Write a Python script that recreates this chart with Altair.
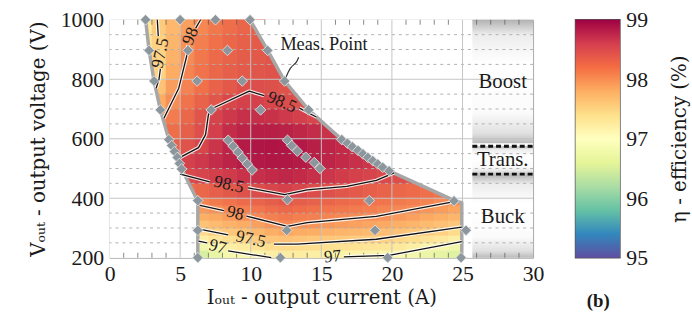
import altair as alt
import pandas as pd

# ---------------- values ----------------
# efficiency grid: row r spans [row_v_lo[r], row_v_hi[r]] V; cells are 1 A wide starting at row_i0[r]
row_v_lo = [200, 225, 250, 275, 300, 325, 350, 375, 400, 450, 500, 550, 600, 650, 700, 750, 800, 850, 900, 950]
row_v_hi = [225, 250, 275, 300, 325, 350, 375, 400, 450, 500, 550, 600, 650, 700, 750, 800, 850, 900, 950, 1000]
row_i0 = [6, 6, 6, 6, 6, 6, 6, 6, 5, 5, 4, 4, 3, 3, 3, 3, 2, 2, 2, 2]
eff_rows = [
    [96.53, 96.72, 96.90, 96.98, 97.05, 97.13, 97.16, 97.17, 97.15, 97.12, 97.09, 97.08, 97.07, 97.05, 96.99, 96.90, 96.80, 96.69, 96.59],
    [96.83, 96.99, 97.14, 97.21, 97.30, 97.39, 97.41, 97.40, 97.38, 97.36, 97.34, 97.32, 97.30, 97.27, 97.22, 97.15, 97.06, 96.96, 96.86],
    [97.13, 97.27, 97.38, 97.45, 97.53, 97.60, 97.63, 97.61, 97.59, 97.57, 97.56, 97.54, 97.52, 97.50, 97.45, 97.40, 97.31, 97.23, 97.14],
    [97.42, 97.52, 97.58, 97.63, 97.70, 97.78, 97.84, 97.80, 97.78, 97.75, 97.73, 97.70, 97.68, 97.66, 97.62, 97.58, 97.54, 97.50, 97.41],
    [97.61, 97.68, 97.74, 97.80, 97.88, 97.96, 98.03, 97.99, 97.96, 97.93, 97.90, 97.87, 97.84, 97.81, 97.77, 97.73, 97.68, 97.64, 97.59],
    [97.77, 97.83, 97.90, 97.98, 98.04, 98.09, 98.14, 98.11, 98.09, 98.06, 98.04, 98.02, 98.00, 97.97, 97.92, 97.87, 97.81, 97.77, 97.72],
    [97.92, 97.99, 98.05, 98.11, 98.16, 98.22, 98.26, 98.23, 98.20, 98.17, 98.15, 98.12, 98.10, 98.07, 98.04, 98.01, 97.95, 97.90, 97.85],
    [98.07, 98.13, 98.18, 98.24, 98.29, 98.34, 98.38, 98.34, 98.31, 98.28, 98.25, 98.22, 98.19, 98.17, 98.13, 98.10, 98.06, 98.02, 97.98],
    [98.22, 98.27, 98.33, 98.38, 98.43, 98.47, 98.52, 98.56, 98.52, 98.47, 98.44, 98.40, 98.37, 98.33, 98.30, 98.27, 98.24, 98.21, 98.18, 98.15],
    [98.49, 98.53, 98.57, 98.61, 98.66, 98.69, 98.72, 98.74, 98.72, 98.68, 98.64, 98.60, 98.56, 98.53, 98.49, 98.46, 98.43],
    [98.48, 98.56, 98.63, 98.70, 98.77, 98.82, 98.84, 98.85, 98.85, 98.83, 98.80, 98.76, 98.72, 98.68, 98.64, 98.60],
    [98.32, 98.42, 98.52, 98.65, 98.76, 98.83, 98.86, 98.87, 98.86, 98.84, 98.80, 98.76, 98.72, 98.68],
    [98.12, 98.22, 98.33, 98.45, 98.58, 98.70, 98.77, 98.80, 98.80, 98.78, 98.74, 98.70, 98.66, 98.63],
    [97.97, 98.12, 98.27, 98.41, 98.55, 98.63, 98.68, 98.69, 98.67, 98.62, 98.57, 98.52, 98.53],
    [97.80, 98.00, 98.18, 98.30, 98.40, 98.51, 98.56, 98.56, 98.52, 98.47, 98.44, 98.42],
    [97.62, 97.90, 98.08, 98.20, 98.30, 98.38, 98.45, 98.46, 98.44, 98.42, 98.40],
    [97.40, 97.49, 97.80, 98.06, 98.18, 98.27, 98.33, 98.37, 98.40, 98.42, 98.43],
    [97.35, 97.48, 97.75, 98.02, 98.15, 98.25, 98.30, 98.35, 98.38, 98.40],
    [97.30, 97.50, 97.72, 97.97, 98.10, 98.20, 98.27, 98.32, 98.36, 98.38],
    [97.25, 97.55, 97.70, 97.88, 98.05, 98.15, 98.22, 98.28, 98.32],
]

# boundary of the measured operating region
left_i = [2.55, 2.8, 3.15, 3.6, 4.2, 5.1, 6.25, 6.25]
left_v = [1000, 897, 794, 697, 597, 500, 390, 200]
right_i = [9.95, 11.2, 12.4, 14.1, 16.45, 19.8, 24.4, 24.95, 24.95]
right_v = [1000, 897, 794, 697, 597, 492, 393, 385, 200]

# measurement points
meas_i = [2.55, 5.0, 7.5, 9.95, 2.8, 5.55, 8.35, 11.2, 3.15, 6.2, 9.4, 12.4, 3.6, 7.2, 10.7, 14.1,
          4.2, 4.4, 4.6, 4.8, 4.95, 5.1,
          8.4, 8.75, 9.1, 9.4, 9.75, 10.1,
          12.6, 12.9, 13.3, 13.9, 14.5, 14.9,
          16.45, 16.85, 17.2, 17.6, 17.95, 18.3, 18.65, 19.0, 19.35, 19.8,
          6.25, 12.6, 18.4, 24.4, 6.25, 12.55, 18.8, 25.25, 6.25, 12.1, 19.7, 24.9]
meas_v = [1000, 1000, 1000, 1000, 897, 897, 897, 897, 794, 794, 794, 794, 697, 697, 697, 697,
          597, 577, 557, 537, 517, 498,
          595, 575, 555, 535, 515, 495,
          595, 577, 558, 538, 520, 500,
          597, 585, 573, 561, 549, 537, 526, 515, 504, 492,
          392, 395, 392, 391, 292, 292, 292, 292, 200, 200, 200, 200]

# contour lines (segments, broken where the labels sit)
contour_985 = [
    [(4.9, 535), (6.3, 570), (6.8, 614), (7.0, 680), (7.2, 700), (9.9, 760), (10.95, 745)],
    [(13.45, 703), (14.2, 684), (14.65, 673)],
    [(5.0, 481), (7.1, 455)],
    [(9.8, 435), (12.4, 412), (14.0, 428), (16.8, 440), (18.9, 460), (20.15, 485)],
]
contour_98 = [
    [(6.45, 1000), (6.1, 972)],
    [(5.55, 915), (5.5, 885), (4.9, 770), (3.85, 669)],
    [(6.4, 376), (8.1, 358)],
    [(9.7, 340), (12.6, 305), (14.0, 318), (18.9, 339), (24.6, 390)],
]
contour_975 = [
    [(3.38, 1000), (3.45, 945)],
    [(3.6, 835), (3.5, 800), (3.3, 770)],
    [(6.35, 296), (8.4, 277)],
    [(11.65, 246), (13.3, 246), (18.9, 262), (24.95, 303)],
]
contour_97 = [
    [(6.3, 256), (6.9, 250)],
    [(8.4, 223), (11.45, 200)],
    [(16.6, 203), (19.8, 208), (24.95, 254)],
]

label_text = ["97.5", "98", "98.5", "98.5", "98", "97.5", "97", "97"]
label_i = [3.62, 5.75, 12.2, 8.45, 8.9, 10.0, 7.65, 15.8]
label_v = [888, 945, 722, 445, 349, 262, 236, 203]
label_angle = [282, 292, 23, 13, 14, 12, 15, 355]

lead_i = [12.47, 12.8, 13.17, 13.3, 13.4]
lead_v = [804, 841, 852, 863, 874]
note_text = ["Meas. Point"]
note_i = [12.1]
note_v = [917]

band_names = ["Boost", "Trans.", "Buck"]
band_v_lo = [585, 481, 200]
band_v_hi = [1000, 575, 481]
band_label_v = [791, 527, 338]
band_i_lo = 25.7
band_i_hi = 30
band_edges_v = [575, 481]

minor_v = [250, 300, 350, 450, 500, 550, 650, 700, 750, 850, 900, 950]
major_v = [400, 600, 800]
major_i = [5, 10, 15, 20, 25]
tick_i = [k for k in range(1, 30) if k % 5 != 0]

x_ticks = [0, 5, 10, 15, 20, 25, 30]
y_ticks = [200, 400, 600, 800, 1000]
cbar_ticks = [95, 96, 97, 98, 99]
spectral = ["#9e0142", "#d53e4f", "#f46d43", "#fdae61", "#fee08b", "#ffffbf",
            "#e6f598", "#abdda4", "#66c2a5", "#3288bd", "#5e4fa2"]

# ---------------- tables ----------------
heat_rec = []
for lo, hi, i0, vals in zip(row_v_lo, row_v_hi, row_i0, eff_rows):
    for k, e in enumerate(vals):
        heat_rec.append({"i": i0 + k, "i2": i0 + k + 1, "v": lo, "v2": hi, "eff": e})
heat_df = pd.DataFrame(heat_rec)

left_df = pd.DataFrame({"v": left_v, "i": [0] * len(left_v), "i2": left_i})
right_df = pd.DataFrame({"v": right_v, "i": right_i, "i2": [band_i_hi] * len(right_v)})

outline_rec = []
for side, xs_, vs_ in (("L", left_i, left_v), ("R", right_i, right_v)):
    for k, (a, b) in enumerate(zip(xs_, vs_)):
        outline_rec.append({"i": a, "v": b, "seg": side, "k": k})
outline_df = pd.DataFrame(outline_rec)

cont_rec = []
for name, segs in (("985", contour_985), ("98", contour_98), ("975", contour_975), ("97", contour_97)):
    for s, seg in enumerate(segs):
        for k, (a, b) in enumerate(seg):
            cont_rec.append({"i": a, "v": b, "seg": f"{name}_{s}", "k": k})
cont_df = pd.DataFrame(cont_rec)

lab_df = pd.DataFrame({"t": label_text, "i": label_i, "v": label_v, "a": label_angle})
meas_df = pd.DataFrame({"i": meas_i, "v": meas_v})
lead_df = pd.DataFrame({"i": lead_i, "v": lead_v, "k": list(range(len(lead_i)))})
note_df = pd.DataFrame({"t": note_text, "i": note_i, "v": note_v})
band_df = pd.DataFrame({"name": band_names, "v": band_v_lo, "v2": band_v_hi,
                        "lv": band_label_v, "i": [band_i_lo] * 3, "i2": [band_i_hi] * 3,
                        "ic": [(band_i_lo + band_i_hi) / 2] * 3})
edge_df = pd.DataFrame({"v": band_edges_v, "i": [band_i_lo] * 2, "i2": [band_i_hi] * 2})
minor_df = pd.DataFrame({"v": minor_v})
majv_df = pd.DataFrame({"v": major_v})
maji_df = pd.DataFrame({"i": major_i})
tickb_df = pd.DataFrame({"i": tick_i, "v": [200] * len(tick_i)})
tickt_df = pd.DataFrame({"i": tick_i, "v": [1000] * len(tick_i)})

# ---------------- encodings ----------------
NUM_FONT = "Liberation Serif"
TXT_FONT = "DejaVu Serif"
INK = "#1a1a1a"

xs = alt.Scale(domain=[0, 30], nice=False, zero=False)
ys = alt.Scale(domain=[200, 1000], nice=False, zero=False)
cs = alt.Scale(scheme="spectral", reverse=True, domain=[95, 99])

x_axis = alt.Axis(title="I\u2092\u1d64\u209c - output current (A)", values=x_ticks, format="d", grid=False,
                  ticks=False, domain=False, labelFont=NUM_FONT, labelFontSize=22, labelColor=INK,
                  labelPadding=6, labelFlush=False, titleFont=TXT_FONT, titleFontSize=20,
                  titleFontWeight="normal", titleColor=INK, titlePadding=3)
y_axis = alt.Axis(title="V\u2092\u1d64\u209c - output voltage (V)", values=y_ticks, format="d", grid=False,
                  ticks=False, domain=False, labelFont=NUM_FONT, labelFontSize=22, labelColor=INK,
                  labelPadding=6, labelFlush=False, titleFont=TXT_FONT, titleFontSize=20,
                  titleFontWeight="normal", titleColor=INK, titlePadding=12)


def X(f, **kw):
    return alt.X(f, type="quantitative", scale=xs, axis=x_axis, **kw)


def Y(f, **kw):
    return alt.Y(f, type="quantitative", scale=ys, axis=y_axis, **kw)


heat = alt.Chart(heat_df).mark_rect(strokeWidth=0.6).encode(
    x=X("i"), x2=alt.X2("i2"), y=Y("v"), y2=alt.Y2("v2"),
    color=alt.Color("eff:Q", scale=cs, legend=None),
    stroke=alt.Stroke("eff:Q", scale=cs, legend=None),
)

mask_l = alt.Chart(left_df).mark_area(color="white", orient="horizontal").encode(
    y=Y("v"), x=X("i", stack=None), x2=alt.X2("i2"))
mask_r = alt.Chart(right_df).mark_area(color="white", orient="horizontal").encode(
    y=Y("v"), x=X("i", stack=None), x2=alt.X2("i2"))

band_grad = alt.Gradient(
    gradient="linear", x1=0, x2=0, y1=0, y2=1,
    stops=[alt.GradientStop(offset=0, color="#b2b2b2"), alt.GradientStop(offset=0.12, color="#ececec"),
           alt.GradientStop(offset=0.35, color="#ffffff"), alt.GradientStop(offset=0.75, color="#fbfbfb"),
           alt.GradientStop(offset=0.92, color="#e0e0e0"), alt.GradientStop(offset=1, color="#bababa")])
band = alt.Chart(band_df).mark_rect(color=band_grad).encode(
    x=X("i"), x2=alt.X2("i2"), y=Y("v"), y2=alt.Y2("v2"))

grid_minor = alt.Chart(minor_df).mark_rule(color="#b0b0b0", strokeDash=[3, 4], strokeWidth=1).encode(y=Y("v"))
grid_v = alt.Chart(majv_df).mark_rule(color="#c4c4c4", strokeWidth=1).encode(y=Y("v"))
grid_i = alt.Chart(maji_df).mark_rule(color="#c4c4c4", strokeWidth=1).encode(x=X("i"))

ticks_b = alt.Chart(tickb_df).mark_tick(orient="vertical", size=5, thickness=1, color="#555", yOffset=-2.5).encode(
    x=X("i"), y=Y("v"))
ticks_t = alt.Chart(tickt_df).mark_tick(orient="vertical", size=5, thickness=1, color="#555", yOffset=2.5).encode(
    x=X("i"), y=Y("v"))

outline = alt.Chart(outline_df).mark_line(color="#a7a7a7", strokeWidth=3.5, strokeJoin="round").encode(
    x=X("i"), y=Y("v"), detail="seg:N", order="k:Q")

halo = alt.Chart(cont_df).mark_line(color="white", strokeWidth=3.6, opacity=0.85, strokeJoin="round").encode(
    x=X("i"), y=Y("v"), detail="seg:N", order="k:Q")
lines = alt.Chart(cont_df).mark_line(color="#111111", strokeWidth=1.3, strokeJoin="round").encode(
    x=X("i"), y=Y("v"), detail="seg:N", order="k:Q")

labels = alt.Chart(lab_df).mark_text(font=NUM_FONT, fontSize=17.5, color=INK, align="center",
                                     baseline="middle").encode(
    x=X("i"), y=Y("v"), text="t:N", angle=alt.Angle("a:Q", scale=None))

lead = alt.Chart(lead_df).mark_line(color="#333333", strokeWidth=1.2, interpolate="basis").encode(
    x=X("i"), y=Y("v"), order="k:Q")
note = alt.Chart(note_df).mark_text(font=NUM_FONT, fontSize=18.5, color=INK, align="left",
                                    baseline="middle").encode(x=X("i"), y=Y("v"), text="t:N")

points = alt.Chart(meas_df).mark_point(shape="diamond", filled=True, size=115, fill="#8c979d",
                                       stroke="#e8e8e8", strokeWidth=0.8, opacity=1).encode(
    x=X("i"), y=Y("v"))

edges = alt.Chart(edge_df).mark_rule(color="#111111", strokeWidth=3, strokeDash=[5, 3]).encode(
    x=X("i"), x2=alt.X2("i2"), y=Y("v"))
band_text = alt.Chart(band_df).mark_text(font=NUM_FONT, fontSize=21, color=INK, align="center",
                                         baseline="middle").encode(x=X("ic"), y=Y("lv"), text="name:N")

main = alt.layer(heat, mask_l, mask_r, band, grid_minor, grid_v, grid_i, ticks_b, ticks_t, outline,
                 halo, lines, labels, lead, note, points, edges, band_text).properties(width=429, height=241)

# colour bar
cb_df = pd.DataFrame({"a": [0], "b": [1], "lo": [95], "hi": [99]})
cb_grad = alt.Gradient(gradient="linear", x1=0, x2=0, y1=1, y2=0,
                       stops=[alt.GradientStop(offset=k / 10, color=spectral[10 - k]) for k in range(11)])
cbar = alt.Chart(cb_df).mark_rect(color=cb_grad).encode(
    x=alt.X("a:Q", scale=alt.Scale(domain=[0, 1], nice=False),
            axis=alt.Axis(title="(b)", labels=False, ticks=False, domain=False, grid=False,
                          titleFont=NUM_FONT, titleFontSize=19, titleFontWeight="bold", titleColor=INK,
                          titlePadding=34)),
    x2=alt.X2("b"),
    y=alt.Y("lo:Q", scale=alt.Scale(domain=[95, 99], nice=False, zero=False),
            axis=alt.Axis(orient="right", values=cbar_ticks, ticks=False, domain=False, grid=False,
                          labelFont=NUM_FONT, labelFontSize=22, labelColor=INK, labelPadding=6,
                          labelFlush=False, title="\u03b7 - efficiency (%)", titleFont=TXT_FONT,
                          titleFontSize=20, titleFontWeight="normal", titleColor=INK, titleAngle=270,
                          titleBaseline="top", titlePadding=22)),
    y2=alt.Y2("hi"),
).properties(width=45, height=241, view=alt.ViewBackground(stroke="#555555", strokeWidth=1.5))

chart = alt.hconcat(main, cbar, spacing=30).properties(
    padding={"left": 28, "top": 6, "right": 2, "bottom": 2}, background="white"
).configure_view(stroke="#a0a0a0", strokeWidth=1)

chart.save("out.html", embed_options={"renderer": "svg", "actions": False})
